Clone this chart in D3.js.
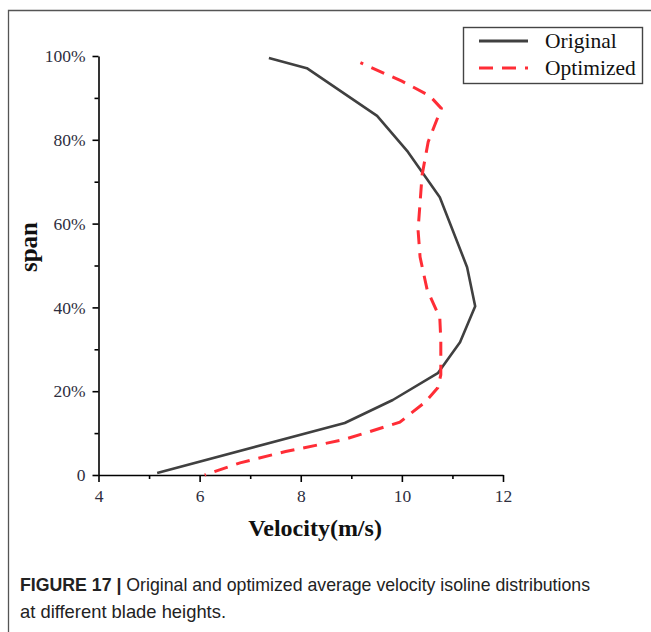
<!DOCTYPE html>
<html>
<head>
<meta charset="utf-8">
<script src="https://cdn.jsdelivr.net/npm/d3@7"></script>
<style>
  html, body { margin: 0; padding: 0; background: #fff; }
  svg { display: block; }
</style>
</head>
<body>
<svg id="chart" width="651" height="632"></svg>
<script>
// Spanwise velocity profiles (span in %, velocity in m/s)
const originalSpan = [99.5, 97.1, 85.7, 77.1, 66.3, 49.6, 40.3, 31.7, 24.3, 17.9, 12.4, 0.5];
const originalVel  = [7.37, 8.12, 9.51, 10.12, 10.75, 11.29, 11.45, 11.15, 10.71, 9.82, 8.87, 5.16];

const optimizedSpan = [98.4, 94, 90.5, 87.5, 79.5, 71.6, 58.5, 52, 44.2, 37.5, 32.2, 23.9, 20.8, 17.4, 12.6, 8.4, 5.6, 2.9, 0];
const optimizedVel  = [9.18, 10.0, 10.55, 10.78, 10.52, 10.40, 10.32, 10.36, 10.50, 10.75, 10.77, 10.77, 10.71, 10.46, 9.96, 8.84, 7.70, 6.80, 6.10];

const xTicks = [4, 6, 8, 10, 12];
const xMinorTicks = [5, 7, 9, 11];
const yTicks = [0, 20, 40, 60, 80, 100];
const yMinorTicks = [10, 30, 50, 70, 90];
const yTickLabels = ["0", "20%", "40%", "60%", "80%", "100%"];

const seriesNames = ["Original", "Optimized"];
const captionBold = "FIGURE 17 |";
const captionLine1 = " Original and optimized average velocity isoline distributions";
const captionLine2 = "at different blade heights.";

const svg = d3.select("#chart");
const serif = "'Liberation Serif', 'Times New Roman', serif";
const labelColor = "#2e2e3e";

// Outer frame (left and top edges)
svg.append("path")
  .attr("d", "M8.5,632 V10.5 H651")
  .attr("fill", "none").attr("stroke", "#555").attr("stroke-width", 1.3);

const x = d3.scaleLinear().domain([4, 12]).range([98.5, 503]);
const y = d3.scaleLinear().domain([0, 100]).range([475, 56]);

// X axis
const xAxis = svg.append("g").attr("transform", "translate(0,475)")
  .call(d3.axisBottom(x).tickValues(xTicks).tickSize(7).tickSizeOuter(0).tickFormat(d3.format("d")));
xAxis.select(".domain").attr("stroke", "#000").attr("stroke-width", 1.6);
xAxis.selectAll(".tick line").attr("stroke", "#000").attr("stroke-width", 1.6);
xAxis.selectAll(".tick text").attr("font-family", serif).attr("font-size", 17.5)
  .attr("fill", labelColor).attr("dy", "0.95em");
svg.append("g").attr("transform", "translate(0,475)")
  .call(d3.axisBottom(x).tickValues(xMinorTicks).tickSize(4).tickFormat(""))
  .call(g => g.select(".domain").remove())
  .selectAll(".tick line").attr("stroke", "#000").attr("stroke-width", 1.6);

// Y axis
const yAxis = svg.append("g").attr("transform", "translate(98.5,0)")
  .call(d3.axisLeft(y).tickValues(yTicks).tickSize(6).tickSizeOuter(0)
    .tickFormat((d, i) => yTickLabels[i]));
yAxis.select(".domain").attr("stroke", "#000").attr("stroke-width", 1.6);
yAxis.selectAll(".tick line").attr("stroke", "#000").attr("stroke-width", 1.6);
yAxis.selectAll(".tick text").attr("font-family", serif).attr("font-size", 17.5)
  .attr("fill", labelColor).attr("x", -13);
svg.append("g").attr("transform", "translate(98.5,0)")
  .call(d3.axisLeft(y).tickValues(yMinorTicks).tickSize(4).tickFormat(""))
  .call(g => g.select(".domain").remove())
  .selectAll(".tick line").attr("stroke", "#000").attr("stroke-width", 1.6);

// Axis titles
svg.append("text").attr("x", 315).attr("y", 536).attr("text-anchor", "middle")
  .attr("font-family", serif).attr("font-weight", "bold").attr("font-size", 24)
  .attr("fill", "#111").text("Velocity(m/s)");
svg.append("text").attr("transform", "translate(37,247) rotate(-90)")
  .attr("text-anchor", "middle")
  .attr("font-family", serif).attr("font-weight", "bold").attr("font-size", 25)
  .attr("fill", "#111").text("span");

// Profiles
const line = d3.line().x(d => x(d[0])).y(d => y(d[1]));
const origPts = originalVel.map((v, i) => [v, originalSpan[i]]);
const optPts = optimizedVel.map((v, i) => [v, optimizedSpan[i]]);

svg.append("path").datum(origPts).attr("d", line)
  .attr("fill", "none").attr("stroke", "#404040").attr("stroke-width", 2.6)
  .attr("stroke-linejoin", "round");
svg.append("path").datum(optPts).attr("d", line)
  .attr("fill", "none").attr("stroke", "#ff2d36").attr("stroke-width", 3)
  .attr("stroke-dasharray", "14 9").attr("stroke-dashoffset", 11);

// Legend
const legend = svg.append("g");
legend.append("rect").attr("x", 463.5).attr("y", 27.5).attr("width", 179).attr("height", 56)
  .attr("fill", "#fff").attr("stroke", "#444").attr("stroke-width", 1.4);
const legendStyles = [
  { stroke: "#404040", width: 2.8, dash: null },
  { stroke: "#ff2d36", width: 3.2, dash: "14 9" }
];
seriesNames.forEach((name, i) => {
  const ly = 41 + i * 27;
  legend.append("line").attr("x1", 479).attr("x2", 528).attr("y1", ly).attr("y2", ly)
    .attr("stroke", legendStyles[i].stroke).attr("stroke-width", legendStyles[i].width)
    .attr("stroke-dasharray", legendStyles[i].dash);
  legend.append("text").attr("x", 545).attr("y", ly + 7)
    .attr("font-family", serif).attr("font-size", 21.5).attr("fill", "#111").text(name);
});

// Caption (condensed to fit the figure width)
const sans = "'Liberation Sans', Arial, sans-serif";
const cap = svg.append("text").attr("x", 20).attr("y", 591)
  .attr("font-family", sans).attr("font-size", 19).attr("fill", "#222")
  .attr("textLength", 570).attr("lengthAdjust", "spacingAndGlyphs");
cap.append("tspan").attr("font-weight", "bold").text(captionBold);
cap.append("tspan").text(captionLine1);
svg.append("text").attr("x", 20).attr("y", 618)
  .attr("font-family", sans).attr("font-size", 19).attr("fill", "#222")
  .attr("textLength", 206).attr("lengthAdjust", "spacingAndGlyphs")
  .text(captionLine2);
</script>
</body>
</html>
